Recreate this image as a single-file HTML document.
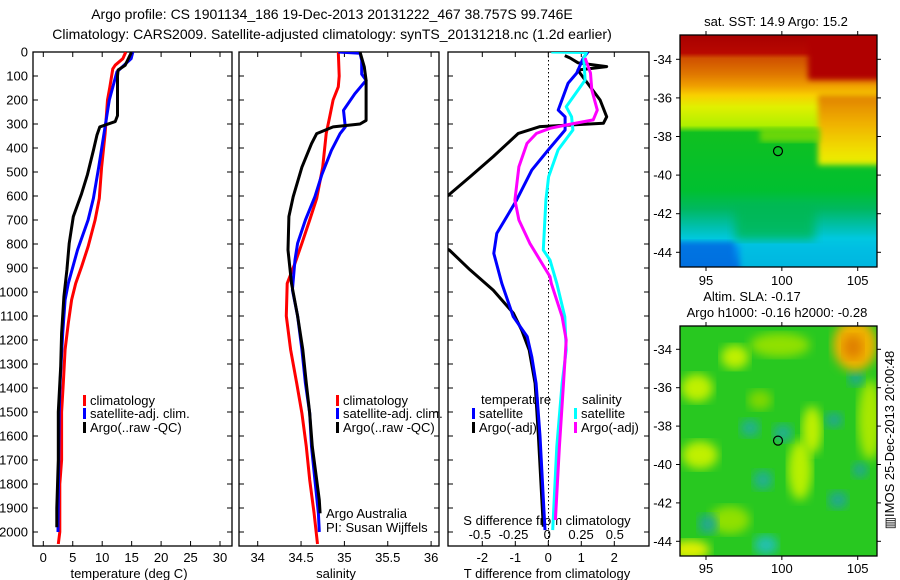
<!DOCTYPE html>
<html><head><meta charset="utf-8"><style>
html,body{margin:0;padding:0;background:#fff;}
svg{display:block;font-family:"Liberation Sans",sans-serif;}
text{fill:#000;}
</style></head><body>
<svg id="fig" width="900" height="580" viewBox="0 0 900 580" xmlns="http://www.w3.org/2000/svg">
<defs>
<clipPath id="c1"><rect x="33" y="52" width="199" height="494"/></clipPath>
<clipPath id="c2"><rect x="239" y="52" width="200" height="494"/></clipPath>
<clipPath id="c3"><rect x="448" y="52" width="201" height="494"/></clipPath>
<clipPath id="cm1"><rect x="680" y="35" width="197" height="232"/></clipPath>
<clipPath id="cm2"><rect x="680" y="326" width="197" height="230"/></clipPath>
<linearGradient id="sstg" x1="0" y1="0" x2="0" y2="1">
<stop offset="0" stop-color="#a80000"/><stop offset="0.078" stop-color="#b80800"/>
<stop offset="0.1" stop-color="#d05000"/><stop offset="0.17" stop-color="#e07800"/>
<stop offset="0.22" stop-color="#f0a000"/><stop offset="0.26" stop-color="#f8d000"/>
<stop offset="0.31" stop-color="#e0f000"/><stop offset="0.39" stop-color="#b0f000"/>
<stop offset="0.42" stop-color="#10c020"/><stop offset="0.67" stop-color="#00c030"/>
<stop offset="0.75" stop-color="#00b860"/><stop offset="0.83" stop-color="#00c0b0"/>
<stop offset="0.88" stop-color="#00c8e0"/><stop offset="0.92" stop-color="#0098f0"/>
<stop offset="1" stop-color="#0070e0"/>
</linearGradient>
<linearGradient id="sstr" x1="0" y1="0" x2="0" y2="1">
<stop offset="0" stop-color="#e08000"/><stop offset="0.4" stop-color="#f0b000"/>
<stop offset="0.8" stop-color="#f0e000"/><stop offset="1" stop-color="#e8f000"/>
</linearGradient>
<filter id="blur"><feGaussianBlur stdDeviation="5"/></filter>
<filter id="blur2"><feGaussianBlur stdDeviation="3"/></filter>
</defs>
<g id="titles">
<text x="332" y="19" font-size="14" text-anchor="middle">Argo profile: CS 1901134_186 19-Dec-2013 20131222_467 38.757S 99.746E</text>
<text x="332" y="39" font-size="14" text-anchor="middle">Climatology: CARS2009. Satellite-adjusted climatology: synTS_20131218.nc (1.2d earlier)</text>
</g>
<g id="axes"></g>
<g id="series"></g>
<g id="maps"></g>
</svg>
<script>
// ---------- data ----------
const depthTicks=[0,100,200,300,400,500,600,700,800,900,1000,1100,1200,1300,1400,1500,1600,1700,1800,1900,2000];
const tempTicks=[0,5,10,15,20,25,30];
const salTicks=[34,34.5,35,35.5,36];
const tdiffTicks=[-2,-1,0,1,2];
const sdiffTicks=[-0.5,-0.25,0,0.25,0.5];
const sdiffLabels=["-0.5","-0.25","0","0.25","0.5"];
const lonTicks=[95,100,105];
const latTicks=[-34,-36,-38,-40,-42,-44];

const tempClimDepth=[0,28,55,70,145,200,340,480,610,700,811,894,964,1033,1130,1240,1380,1500,1700,1800,2000,2050];
const tempClim=[14.0,13.5,12.2,11.8,11.3,10.9,10.5,9.9,9.5,8.8,7.6,6.5,5.5,4.8,4.25,3.7,3.4,3.1,3.1,2.8,2.8,2.55];
const tempSatDepth=[0,28,83,200,340,480,610,700,825,964,1033,1172,1380,1500,2000];
const tempSat=[15.2,14.9,12.5,11.2,10.3,9.4,8.5,7.6,5.8,4.25,3.7,3.3,2.85,2.7,2.5];
const tempArgoDepth=[0,55,75,100,265,290,312,347,410,510,590,686,797,908,1019,1172,1310,1500,1700,1900,1980];
const tempArgo=[15,13.9,12.7,12.6,12.6,12.2,9.6,9.1,8.5,7.5,6.5,5.1,4.4,4.0,3.5,3.1,2.95,2.55,2.55,2.3,2.3];

const salClimDepth=[0,100,145,200,270,340,480,610,700,797,880,964,1100,1240,1380,1505,1644,1783,1922,2050];
const salClim=[34.93,34.94,34.93,34.87,34.83,34.79,34.75,34.68,34.60,34.51,34.43,34.34,34.33,34.38,34.45,34.51,34.56,34.60,34.65,34.69];
const salSatDepth=[0,5,35,92,118,174,243,312,340,410,510,603,700,797,866,991,1100,1240,1380,1505,1644,1783,1922,2000];
const salSat=[34.93,35.18,35.20,35.20,35.25,35.12,34.99,35.01,34.95,34.85,34.74,34.66,34.55,34.46,34.43,34.40,34.46,34.51,34.55,34.60,34.62,34.66,34.70,34.71];
const salArgoDepth=[0,62,118,285,300,312,340,382,480,603,686,825,964,1100,1240,1380,1505,1644,1783,1867,1922];
const salArgo=[35.18,35.23,35.25,35.25,35.18,34.87,34.68,34.62,34.51,34.41,34.36,34.35,34.39,34.46,34.52,34.56,34.60,34.63,34.68,34.71,34.72];

const tdArgoDepth=[15,25,45,61,75,88,200,270,297,311,339,436,520,617,700,825,908,992,1088,1158,1242,1381,1600,1978];
const tdArgo=[0.5,0.66,0.9,1.77,0.9,0.96,1.57,1.77,1.67,-0.25,-0.91,-1.67,-2.37,-3.2,-5,-3.0,-2.37,-1.67,-1.06,-0.81,-0.58,-0.40,-0.3,-0.15];
const tdSatDepth=[0,25,88,130,242,270,325,408,492,617,756,839,964,1103,1186,1270,1381,1600,1992];
const tdSat=[1.2,1.06,0.86,0.6,0.3,0.51,0.51,0,-0.5,-0.96,-1.56,-1.65,-1.41,-1.06,-0.64,-0.5,-0.37,-0.25,-0.1];
const sdSatDepth=[0,2,25,117,228,270,325,408,520,617,825,867,964,1103,1242,1381,1644,1992];
const sdSat=[0.03,0.29,0.27,0.28,0.14,0.18,0.19,0.08,0.01,-0.01,-0.03,0.02,0.07,0.13,0.14,0.11,0.07,0.04];
const sdArgoDepth=[25,88,158,242,283,304,318,339,381,478,617,700,797,936,964,1103,1200,1381,1644,1950];
const sdArgo=[0.28,0.32,0.33,0.37,0.34,0.14,0.02,-0.08,-0.15,-0.21,-0.24,-0.21,-0.13,0.02,0.03,0.11,0.14,0.12,0.09,0.06];

const argoLon=99.746, argoLat=-38.757;

// ---------- scales ----------
const NS="http://www.w3.org/2000/svg";
const yD=d=>52+0.24*d;
const xT=t=>43.3+5.89*t;
const xS=s=>257.7+86.7*(s-34);
const xTD=t=>548.3+33*t;
const xSD=s=>547.3+135*s;
const xLon=l=>706+(l-95)*15.17;
const yLat1=l=>59.3+(-34-l)*19.3;
const yLat2=l=>349.3+(-34-l)*19.2;

function mk(tag,attrs,parent){const e=document.createElementNS(NS,tag);for(const k in attrs)e.setAttribute(k,attrs[k]);parent.appendChild(e);return e;}
const axes=document.getElementById('axes');
const series=document.getElementById('series');
const maps=document.getElementById('maps');

function frame(x0,x1,y0,y1,name){
  const r=mk('rect',{x:x0,y:y0,width:x1-x0,height:y1-y0,fill:'none',stroke:'#000','stroke-width':1.3},axes);
  
  
}
frame(33,232,52,546,'temperature-axes');
frame(239,439,52,546,'salinity-axes');
frame(448,649,52,546,'difference-axes');
depthTicks.forEach(d=>{
  const y=yD(d);
  [[33,232],[239,439],[448,649]].forEach(p=>{
    mk('line',{x1:p[0],x2:p[0]+5,y1:y,y2:y,stroke:'#000'},axes);
    mk('line',{x1:p[1]-5,x2:p[1],y1:y,y2:y,stroke:'#000'},axes);
  });
  const t=mk('text',{x:28,y:y+4.5,'font-size':13,'text-anchor':'end'},axes);
  t.textContent=d;
  
  
});
function xticks(arr,f,labels,ly,name){
  arr.forEach((v,i)=>{
    const x=f(v);
    mk('line',{x1:x,x2:x,y1:546,y2:541,stroke:'#000'},axes);
    mk('line',{x1:x,x2:x,y1:52,y2:57,stroke:'#000'},axes);
    const t=mk('text',{x:x,y:ly,'font-size':13,'text-anchor':'middle'},axes);
    t.textContent=labels?labels[i]:v;
    
    
  });
}
xticks(tempTicks,xT,null,562,'temperature-tick-label');
xticks(salTicks,xS,null,562,'salinity-tick-label');
xticks(tdiffTicks,xTD,null,562,'t-difference-tick-label');
sdiffTicks.forEach((v,i)=>{
  const t=mk('text',{x:xSD(v),y:539,'font-size':13,'text-anchor':'middle'},axes);
  t.textContent=sdiffLabels[i];
  
  
});
function label(x,y,s,txt,name,anchor){
  const t=mk('text',{x:x,y:y,'font-size':s,'text-anchor':anchor||'middle'},axes);
  t.textContent=txt;
  
  
  return t;
}
label(129,578,13,'temperature (deg C)','temperature-axis-title');
label(336,578,13,'salinity','salinity-axis-title');
label(547,578,13,'T difference from climatology','t-difference-axis-title');
label(547,525,13,'S difference from climatology','s-difference-axis-title');
mk('line',{x1:548.5,x2:548.5,y1:52,y2:546,stroke:'#000','stroke-dasharray':'1.5,2.5'},axes);

function line(depths,vals,fx,color,clip,name){
  let d='',pen=false;
  depths.forEach((z,i)=>{
    const v=vals[i];
    if(v===null){pen=false;return;}
    d+=(pen?'L':'M')+fx(v).toFixed(1)+','+yD(z).toFixed(1);pen=true;
  });
  const p=mk('path',{d:d,fill:'none',stroke:color,'stroke-width':3,'stroke-linejoin':'round','clip-path':'url(#'+clip+')'},series);
  
  
}
line(tempClimDepth,tempClim,xT,'#ff0000','c1','temp-climatology-line');
line(tempSatDepth,tempSat,xT,'#0000ff','c1','temp-satellite-line');
line(tempArgoDepth,tempArgo,xT,'#000000','c1','temp-argo-line');
line(salClimDepth,salClim,xS,'#ff0000','c2','sal-climatology-line');
line(salSatDepth,salSat,xS,'#0000ff','c2','sal-satellite-line');
line(salArgoDepth,salArgo,xS,'#000000','c2','sal-argo-line');
line(tdArgoDepth,tdArgo,xTD,'#000000','c3','tdiff-argo-line');
line(tdSatDepth,tdSat,xTD,'#0000ff','c3','tdiff-satellite-line');
line(sdSatDepth,sdSat,xSD,'#00ffff','c3','sdiff-satellite-line');
line(sdArgoDepth,sdArgo,xSD,'#ff00ff','c3','sdiff-argo-line');

function leg(x,y,color,txt,name){
  mk('rect',{x:x,y:y-10,width:3,height:11,fill:color},axes);
  label(x+7,y,13,txt,name,'start');
}
leg(83,405,'#ff0000','climatology','legend-climatology');
leg(83,418,'#0000ff','satellite-adj. clim.','legend-satellite-adj');
leg(83,432,'#000000','Argo(..raw -QC)','legend-argo');
leg(336,405,'#ff0000','climatology','legend-sal-climatology');
leg(336,418,'#0000ff','satellite-adj. clim.','legend-sal-satellite-adj');
leg(336,432,'#000000','Argo(..raw -QC)','legend-sal-argo');
label(481,404,13,'temperature','legend-temperature-heading','start');
leg(472,418,'#0000ff','satellite','legend-tdiff-satellite');
leg(472,432,'#000000','Argo(-adj)','legend-tdiff-argo');
label(582,404,13,'salinity','legend-salinity-heading','start');
leg(574,418,'#00ffff','satellite','legend-sdiff-satellite');
leg(574,432,'#ff00ff','Argo(-adj)','legend-sdiff-argo');
label(326,518,13,'Argo Australia','credit-argo-australia','start');
label(326,532,13,'PI: Susan Wijffels','credit-pi','start');

// ---------- maps ----------
const m1=mk('g',{'clip-path':'url(#cm1)'},maps);


mk('rect',{x:680,y:35,width:197,height:232,fill:'url(#sstg)'},m1);
mk('rect',{x:818,y:95,width:70,height:70,fill:'url(#sstr)',filter:'url(#blur2)'},m1);
mk('rect',{x:808,y:28,width:80,height:52,fill:'#b00000',filter:'url(#blur2)'},m1);
mk('rect',{x:760,y:128,width:60,height:14,fill:'#90e000',opacity:0.7,filter:'url(#blur2)'},m1);
mk('rect',{x:740,y:238,width:150,height:35,fill:'#00c8e0',opacity:0.8,filter:'url(#blur2)'},m1);
mk('rect',{x:672,y:242,width:62,height:30,fill:'#0070e0',opacity:0.9,filter:'url(#blur2)'},m1);
mk('rect',{x:735,y:205,width:80,height:35,fill:'#00b850',opacity:0.8,filter:'url(#blur)'},m1);

const m2=mk('g',{'clip-path':'url(#cm2)'},maps);


mk('rect',{x:680,y:326,width:197,height:230,fill:'#28c820'},m2);
const blobs=[[697,388,16,14,'#c0f000'],[735,357,14,12,'#c0f000'],[700,455,18,14,'#c0f000'],[800,470,12,30,'#b8f000'],[812,430,10,24,'#c0f000'],[870,420,12,40,'#a8e800'],[730,520,20,14,'#90e000'],[690,550,20,10,'#e0f000'],[780,345,30,12,'#90e000'],[760,400,12,10,'#80d800'],
[750,428,10,9,'#20b090'],[783,433,10,9,'#20b090'],[763,480,10,10,'#20b090'],[766,545,12,10,'#20c0b0'],[708,524,10,10,'#20a890'],[838,500,10,9,'#20a890'],[834,420,9,8,'#20a890'],[856,378,8,8,'#20a890'],[860,470,8,8,'#20a890']];
blobs.forEach(b=>{mk('ellipse',{cx:b[0],cy:b[1],rx:b[2],ry:b[3],fill:b[4],filter:'url(#blur)'},m2);});
mk('ellipse',{cx:855,cy:345,rx:22,ry:26,fill:'#f0b000',filter:'url(#blur)'},m2);
mk('ellipse',{cx:853,cy:347,rx:10,ry:12,fill:'#e08000',filter:'url(#blur)'},m2);

function mapAxes(y0,y1,fy,lonY,name){
  mk('rect',{x:680,y:y0,width:197,height:y1-y0,fill:'none',stroke:'#000','stroke-width':1.3},maps);
  lonTicks.forEach(l=>{
    const x=xLon(l);
    mk('line',{x1:x,x2:x,y1:y0-4,y2:y0,stroke:'#000'},maps);
    mk('line',{x1:x,x2:x,y1:y1,y2:y1+4,stroke:'#000'},maps);
    const t=mk('text',{x:x,y:lonY,'font-size':13,'text-anchor':'middle'},maps);
    t.textContent=l;
    
    
  });
  latTicks.forEach(l=>{
    const y=fy(l);
    if(y<y0||y>y1)return;
    mk('line',{x1:676,x2:680,y1:y,y2:y,stroke:'#000'},maps);
    mk('line',{x1:877,x2:881,y1:y,y2:y,stroke:'#000'},maps);
    const t=mk('text',{x:672,y:y+4.5,'font-size':13,'text-anchor':'end'},maps);
    t.textContent=l;
    
    
  });
}
mapAxes(35,267,yLat1,285,'sst-map');
mapAxes(326,556,yLat2,573,'sla-map');
mk('circle',{cx:xLon(argoLon),cy:yLat1(argoLat),r:4.5,fill:'none',stroke:'#000','stroke-width':1.2},maps);
mk('circle',{cx:xLon(argoLon),cy:yLat2(argoLat),r:4.5,fill:'none',stroke:'#000','stroke-width':1.2},maps);
function mlabel(x,y,txt,name){
  const t=mk('text',{x:x,y:y,'font-size':13,'text-anchor':'middle'},maps);
  t.textContent=txt;
  
  
}
mlabel(776,26,'sat. SST: 14.9 Argo: 15.2','sst-map-title');
mlabel(752,301,'Altim. SLA: -0.17','sla-map-title');
mlabel(777,317,'Argo h1000: -0.16 h2000: -0.28','sla-map-subtitle');
const rt=mk('text',{x:0,y:0,'font-size':13,'text-anchor':'middle',transform:'translate(894,440) rotate(-90)'},maps);
rt.textContent='\u25A5IMOS 25-Dec-2013 20:00:48';


</script>
</body></html>
